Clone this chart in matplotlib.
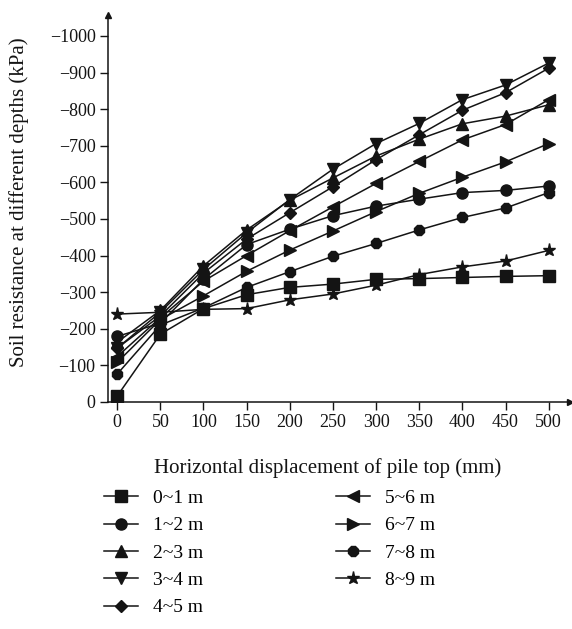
import matplotlib
matplotlib.use('Agg')
import matplotlib.pyplot as plt

plt.rcParams['font.family'] = 'Liberation Serif'

INK = '#141414'

# horizontal displacement of pile top (mm)
disp = [0, 50, 100, 150, 200, 250, 300, 350, 400, 450, 500]

# soil resistance (kPa) per depth layer
r_0_1 = [-16, -185, -255, -293, -313, -322, -335, -337, -340, -343, -345]
r_1_2 = [-179, -215, -335, -430, -472, -509, -535, -554, -572, -578, -590]
r_2_3 = [-163, -250, -372, -470, -551, -612, -672, -718, -760, -781, -812]
r_3_4 = [-147, -245, -362, -462, -553, -636, -706, -761, -826, -866, -926]
r_4_5 = [-147, -235, -352, -445, -517, -588, -662, -730, -797, -845, -912]
r_5_6 = [-124, -230, -330, -400, -468, -533, -597, -657, -716, -758, -826]
r_6_7 = [-108, -225, -290, -357, -415, -467, -520, -570, -614, -656, -706]
r_7_8 = [-76, -210, -257, -313, -356, -398, -433, -470, -504, -530, -572]
r_8_9 = [-240, -245, -253, -255, -279, -295, -319, -348, -369, -385, -414]

series = [r_0_1, r_1_2, r_2_3, r_3_4, r_4_5, r_5_6, r_6_7, r_7_8, r_8_9]
labels = ['0~1 m', '1~2 m', '2~3 m', '3~4 m', '4~5 m',
          '5~6 m', '6~7 m', '7~8 m', '8~9 m']
markers = ['s', 'o', '^', 'v', 'D', '<', '>', '8', '*']
msizes = [8, 8, 8, 8, 6.5, 8, 8, 8, 9.5]

fig = plt.figure(figsize=(5.72, 6.29), dpi=100)
ax = fig.add_axes([0.189, 0.361, 0.808, 0.615])

for vals, lab, mk, ms in zip(series, labels, markers, msizes):
    ax.plot(disp, vals, color=INK, lw=1.1, marker=mk, ms=ms,
            mfc=INK, mec=INK, label=lab)

ax.set_xlim(-10.5, 525)
ax.set_ylim(0, -1057)
ax.set_xticks(range(0, 501, 50))
ax.set_yticks(range(0, -1001, -100))

for s in ['top', 'right']:
    ax.spines[s].set_visible(False)
for s in ['left', 'bottom']:
    ax.spines[s].set_color(INK)
    ax.spines[s].set_linewidth(1.1)

# arrow heads on the axes
ax.plot(1, 0, '>', color=INK, ms=5, transform=ax.transAxes, clip_on=False)
ax.plot(0, 1, '^', color=INK, ms=5, transform=ax.transAxes, clip_on=False)

ax.tick_params(direction='out', length=6, width=1.0, colors=INK,
               labelsize=13, pad=3)

ax.set_xlabel('Horizontal displacement of pile top (mm)', fontsize=15,
              color=INK)
ax.set_ylabel('Soil resistance at different depths (kPa)', fontsize=15,
              color=INK)
ax.xaxis.set_label_coords(0.474, -0.145)
ax.yaxis.set_label_coords(-0.172, 0.517)

ax.legend(loc='upper left', bbox_to_anchor=(0.182, 0.222),
          bbox_transform=fig.transFigure, ncol=2, frameon=False,
          fontsize=14, handlelength=1.75, handletextpad=0.75,
          columnspacing=6.85, labelspacing=0.5, borderpad=0,
          borderaxespad=0)

fig.savefig('out.png', dpi=100, facecolor='white')
